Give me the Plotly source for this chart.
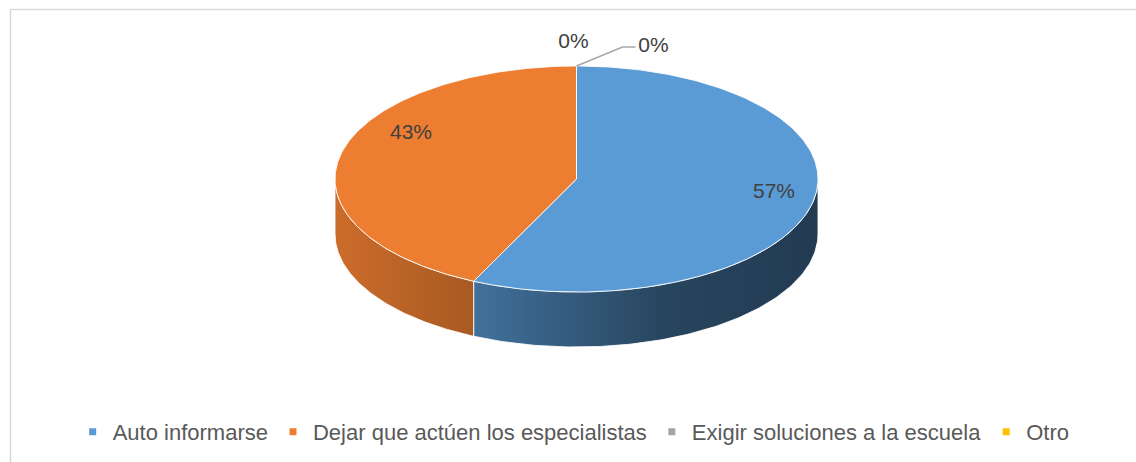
import numpy as np
import plotly.graph_objects as go

# ---- data ----
categories = ["Auto informarse", "Dejar que actúen los especialistas",
              "Exigir soluciones a la escuela", "Otro"]
values = [57, 43, 0, 0]
labels_txt = ["57%", "43%", "0%", "0%"]
top_colors = ["#5B9BD5", "#ED7D31", "#A5A5A5", "#FFC000"]
side_scales = [
    [[0, "#41719c"], [0.55, "#28455f"], [1, "#223b52"]],
    [[0, "#cc6c2b"], [1, "#a85a22"]],
    [[0, "#7c7c7c"], [1, "#5f5f5f"]],
    [[0, "#bf9000"], [1, "#997300"]],
]

# ---- geometry (pixel space) ----
W, H = 1136, 462
cx, cy, rx, ry, depth = 576.5, 179, 241.5, 113, 55
FONT = "Liberation Sans, Arial, sans-serif"


def pt(theta_deg, dy=0.0, kx=1.0, ky=1.0):
    t = np.radians(theta_deg)
    return cx + kx * rx * np.sin(t), cy - ky * ry * np.cos(t) + dy


fig = go.Figure()

total = sum(values)
angles = []
a = 0.0
for v in values:
    b = a + 360.0 * v / total
    angles.append((a, b))
    a = b

# side walls (front half: 90..270 deg, clockwise from top)
for i, (a0, a1) in enumerate(angles):
    lo, hi = max(a0, 90), min(a1, 270)
    if hi <= lo:
        continue
    th = np.linspace(lo, hi, 120)
    xt, yt = pt(th)
    xb, yb = pt(th[::-1], dy=depth)
    xs = np.concatenate([xt, xb, xt[:1]])
    ys = np.concatenate([yt, yb, yt[:1]])
    fig.add_trace(go.Scatter(
        x=xs, y=ys, mode="lines", fill="toself",
        fillgradient=dict(type="horizontal", colorscale=side_scales[i]),
        line=dict(color="rgba(255,255,255,0.85)", width=1),
        hoverinfo="skip", showlegend=False))

# top faces
for i, (a0, a1) in enumerate(angles):
    if a1 - a0 <= 0:
        continue
    th = np.linspace(a0, a1, 200)
    xa, ya = pt(th)
    xs = np.concatenate([[cx], xa, [cx]])
    ys = np.concatenate([[cy], ya, [cy]])
    fig.add_trace(go.Scatter(
        x=xs, y=ys, mode="lines", fill="toself", fillcolor=top_colors[i],
        line=dict(color="rgba(255,255,255,0.85)", width=1),
        hoverinfo="skip", showlegend=False))

# leader line for the last 0% label
x0, y0 = pt(angles[3][0])
lead_x = [x0, x0 + 46, x0 + 59]
lead_y = [y0, y0 - 19, y0 - 19]
fig.add_trace(go.Scatter(x=lead_x, y=lead_y, mode="lines",
                         line=dict(color="#A6A6A6", width=1.5),
                         hoverinfo="skip", showlegend=False))

# data labels
lx, ly = [], []
for i, (a0, a1) in enumerate(angles):
    mid = (a0 + a1) / 2
    if values[i] > 0:
        x, y = pt(mid, kx=0.77, ky=1.2)
        x += 16
        y -= 16
    elif i == 2:
        x, y = cx - 3, cy - ry - 23
    else:
        x, y = lead_x[-1] + 18, lead_y[-1]
    lx.append(x)
    ly.append(y)
fig.add_trace(go.Scatter(x=lx, y=ly, mode="text", text=labels_txt,
                         textfont=dict(family=FONT, size=21, color="#404040"),
                         hoverinfo="skip", showlegend=False))

# legend entries
for i, c in enumerate(categories):
    fig.add_trace(go.Scatter(x=[None], y=[None], mode="markers", name=c,
                             marker=dict(symbol="square", size=7, color=top_colors[i])))

fig.add_shape(type="rect", x0=10.5, y0=9.5, x1=W + 20, y1=H + 20,
              line=dict(color="#D9D9D9", width=1.5), layer="below")

fig.update_layout(
    width=W, height=H, margin=dict(l=0, r=0, t=0, b=0),
    paper_bgcolor="white", plot_bgcolor="white",
    xaxis=dict(range=[0, W], visible=False, fixedrange=True),
    yaxis=dict(range=[H, 0], visible=False, fixedrange=True),
    showlegend=True,
    legend=dict(orientation="h", x=0.505, xanchor="center",
                y=1 - 432 / H, yanchor="middle",
                font=dict(family=FONT, size=22, color="#595959"),
                itemwidth=30, bgcolor="rgba(0,0,0,0)"),
)

fig.write_html("out.html", config={"displayModeBar": False},
               post_script="document.body.style.margin='0';document.body.style.overflow='hidden';")
